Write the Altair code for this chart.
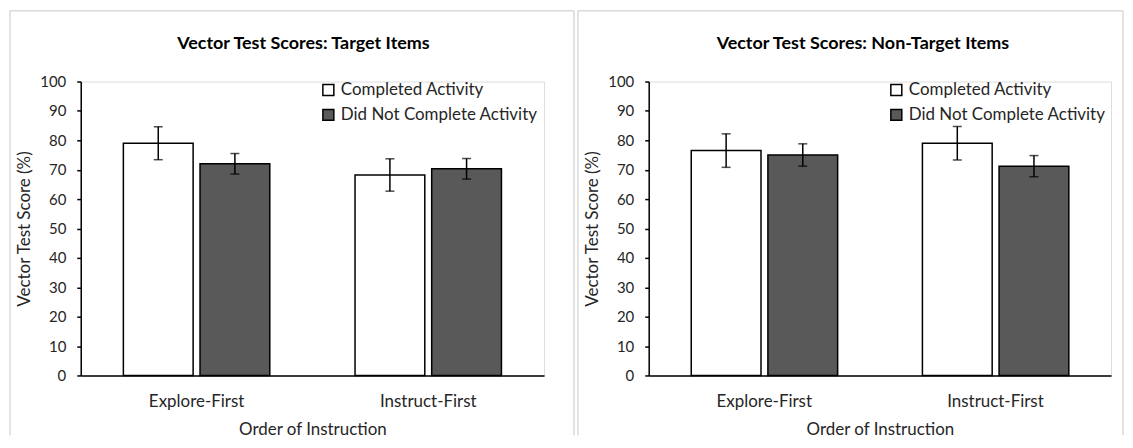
import altair as alt
import pandas as pd

categories = ["Explore-First", "Instruct-First"]
series = ["Completed Activity", "Did Not Complete Activity"]

target_means = [79.0, 72.0, 68.2, 70.3]
target_errs = [5.6, 3.5, 5.5, 3.5]
nontarget_means = [76.5, 75.0, 79.0, 71.2]
nontarget_errs = [5.7, 3.8, 5.7, 3.6]

FONT = "Lato"
TXT = "#262626"


def make_df(means, errs):
    rows = []
    i = 0
    for c in categories:
        for s in series:
            rows.append({"order": c, "group": s, "score": means[i],
                         "lo": means[i] - errs[i], "hi": means[i] + errs[i]})
            i += 1
    return pd.DataFrame(rows)


def y_axis():
    return alt.Axis(title="Vector Test Score (%)", values=list(range(0, 101, 10)),
                    labelOverlap=False, grid=False, tickSize=4, tickColor="black",
                    tickWidth=1.5, domainColor="black", domainWidth=1.5, labelPadding=11,
                    titlePadding=6, labelColor=TXT, titleColor=TXT,
                    labelFontSize=15, titleFontSize=17, labelFont=FONT,
                    titleFont=FONT, titleFontWeight="normal")


def x_axis():
    return alt.Axis(title="Order of Instruction", labelAngle=0, ticks=False,
                    labelPadding=18, titlePadding=12, domainColor="black",
                    domainWidth=1.5, labelColor=TXT, titleColor=TXT,
                    labelFontSize=17, titleFontSize=17, labelFont=FONT,
                    titleFont=FONT, titleFontWeight="normal")


def panel(df, title, w, frame_right, title_dx):
    base = alt.Chart(df)
    x = alt.X("order:N", sort=categories,
              scale=alt.Scale(paddingInner=0.368, paddingOuter=0.184), axis=x_axis())
    xo = alt.XOffset("group:N", sort=series,
                     scale=alt.Scale(paddingInner=0.09, paddingOuter=0))
    y_scale = alt.Scale(domain=[0, 100])
    bars = base.mark_bar(stroke="black", strokeWidth=1.5).encode(
        x=x,
        xOffset=xo,
        y=alt.Y("score:Q", scale=y_scale, axis=y_axis()),
        fill=alt.Fill("group:N", sort=series,
                      scale=alt.Scale(domain=series, range=["white", "#595959"]),
                      legend=alt.Legend(title=None, orient="none", legendX=240, legendY=0,
                                        symbolType="square", symbolSize=121,
                                        symbolStrokeColor="black", symbolStrokeWidth=1.5,
                                        labelFontSize=17, labelFont=FONT, labelColor=TXT,
                                        labelLimit=0, labelOffset=4, rowPadding=7,
                                        padding=0)),
    )
    errs = base.mark_errorbar(ticks=True, size=9, thickness=1.5, color="black").encode(
        x=alt.X("order:N", sort=categories, axis=x_axis()),
        xOffset=alt.XOffset("group:N", sort=series),
        y=alt.Y("lo:Q", scale=y_scale, axis=y_axis()),
        y2="hi:Q",
    )
    one = pd.DataFrame({"k": [0]})
    frame_color = "#d9d9d9"
    top = alt.Chart(one).mark_rule(color=frame_color, strokeWidth=1.5).encode(
        x=alt.value(-71), x2=alt.value(frame_right), y=alt.value(-71))
    left = alt.Chart(one).mark_rule(color=frame_color, strokeWidth=1.5).encode(
        x=alt.value(-71), y=alt.value(-71), y2=alt.value(355))
    ttl = alt.Chart(one).mark_text(font=FONT, fontSize=18, fontWeight="bold",
                                   color="black", align="center", baseline="middle").encode(
        x=alt.value(w / 2 + title_dx), y=alt.value(-38), text=alt.value(title))
    layers = [top, left]
    if frame_right <= w + 40:
        right = alt.Chart(one).mark_rule(color=frame_color, strokeWidth=1.5).encode(
            x=alt.value(frame_right), y=alt.value(-71), y2=alt.value(355))
        layers.append(right)
    layers += [ttl, bars, errs]
    return alt.layer(*layers).properties(width=w, height=295)


left_chart = panel(make_df(target_means, target_errs),
                   "Vector Test Scores: Target Items", 465, 495, -9)
right_chart = panel(make_df(nontarget_means, nontarget_errs),
                    "Vector Test Scores: Non-Target Items", 464, 476, -17)

chart = alt.hconcat(left_chart, right_chart, spacing=0).resolve_scale(
    fill="independent").properties(
    padding={"left": 0, "top": 0, "right": 0, "bottom": 0}
).configure_view(stroke=None).configure(background="white")

chart.save("out.html", embed_options={"renderer": "svg", "actions": False})
